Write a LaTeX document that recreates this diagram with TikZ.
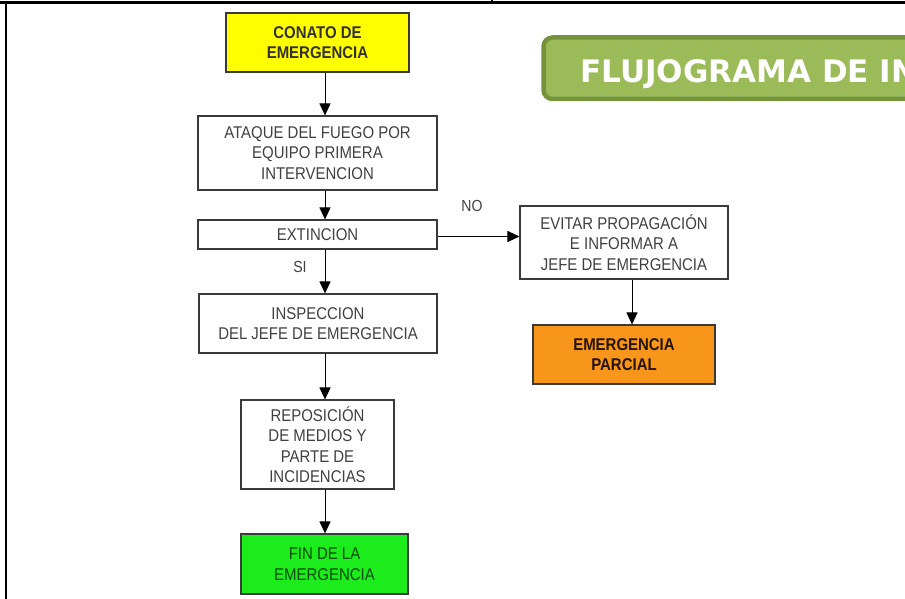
\documentclass[tikz,border=0pt]{standalone}
\usepackage{fontspec}
\setmainfont{Liberation Sans}
\newfontfamily\narrowfont[FakeStretch=0.88]{Liberation Sans}
\newfontfamily\titlefont{DejaVu Sans}
\usetikzlibrary{arrows.meta}
\definecolor{boxline}{HTML}{3A3A3A}
\definecolor{txtgray}{HTML}{404040}
\definecolor{yellowbox}{HTML}{FFFF00}
\definecolor{greenbox}{HTML}{1CEB1C}
\definecolor{orangebox}{HTML}{F7961A}
\definecolor{titlefill}{HTML}{9BBB59}
\definecolor{titleline}{HTML}{76923C}
\begin{document}
\begin{tikzpicture}[x=1pt,y=-1pt,
  box/.style={draw=boxline, line width=1.1pt, align=center, inner sep=0pt,
    text=txtgray, font=\narrowfont\fontsize{17}{20.5}\selectfont},
  boldbox/.style={box, font=\narrowfont\bfseries\fontsize{17}{20.5}\selectfont},
  arr/.style={draw=black, line width=1pt, -{Triangle[length=12pt,width=11pt]}},
  lbl/.style={text=txtgray, inner sep=0pt, font=\narrowfont\fontsize{16}{18}\selectfont},
  frame/.style={draw=black, line width=2.5pt}
]
\useasboundingbox (0,0) rectangle (905,599);
\clip (0,0) rectangle (905,599);

% outer frame lines
\draw[frame] (0,2.5) -- (905,2.5);
\draw[frame] (6,2.5) -- (6,599);
\draw[line width=2pt] (492,0) -- (492,3);

% title banner
\draw[draw=titleline, fill=titlefill, line width=4.5pt, rounded corners=9pt]
  (543.5,37.5) rectangle (960,99);
\node[anchor=base west, inner sep=0pt, text=white,
  font=\titlefont\bfseries\fontsize{31}{31}\selectfont] (title) at (580,83) {FLUJOGRAMA DE IN};

% column coordinates
\coordinate (colx) at (325,0);
\coordinate (colr) at (632,0);
\coordinate (hy) at (0,236.5);

% boxes
\node[boldbox, fill=yellowbox, text=black!80!yellow!40!black, minimum width=183pt, minimum height=59pt]
  (b1) at (317.5,42.5) {CONATO DE\\EMERGENCIA};
\node[box, fill=white, minimum width=239pt, minimum height=74pt]
  (b2) at (317.5,153) {ATAQUE DEL FUEGO POR\\EQUIPO PRIMERA\\INTERVENCION};
\node[box, fill=white, minimum width=239pt, minimum height=29pt]
  (b3) at (317.5,234.5) {EXTINCION};
\node[box, fill=white, minimum width=238pt, minimum height=59pt]
  (b4) at (318,323.5) {INSPECCION\\DEL JEFE DE EMERGENCIA};
\node[box, fill=white, minimum width=153pt, minimum height=89pt]
  (b5) at (317.5,444.5) {REPOSICIÓN\\DE MEDIOS Y\\PARTE DE\\INCIDENCIAS};
\node[box, fill=greenbox, text=green!30!black, minimum width=167pt, minimum height=60pt]
  (b6) at (324.5,564) {FIN DE LA\\EMERGENCIA};
\node[box, fill=white, minimum width=208pt, minimum height=73pt]
  (b7) at (624,242.5) {EVITAR PROPAGACIÓN\\E INFORMAR A\\JEFE DE EMERGENCIA};
\node[boldbox, fill=orangebox, text=black!85!orange, minimum width=182pt, minimum height=59pt]
  (b8) at (624,354.5) {EMERGENCIA\\PARCIAL};

% labels
\node[lbl] (no) at (472,206) {NO};
\node[lbl] (si) at (300,267) {SI};

% connectors
\draw[arr] (b1.south -| colx) -- (b2.north -| colx);
\draw[arr] (b2.south -| colx) -- (b3.north -| colx);
\draw[arr] (b3.south -| colx) -- (b4.north -| colx);
\draw[arr] (b4.south -| colx) -- (b5.north -| colx);
\draw[arr] (b5.south -| colx) -- (b6.north -| colx);
\draw[arr] (b3.east |- hy) -- (b7.west |- hy);
\draw[arr] (b7.south -| colr) -- (b8.north -| colr);
\end{tikzpicture}
\end{document}
